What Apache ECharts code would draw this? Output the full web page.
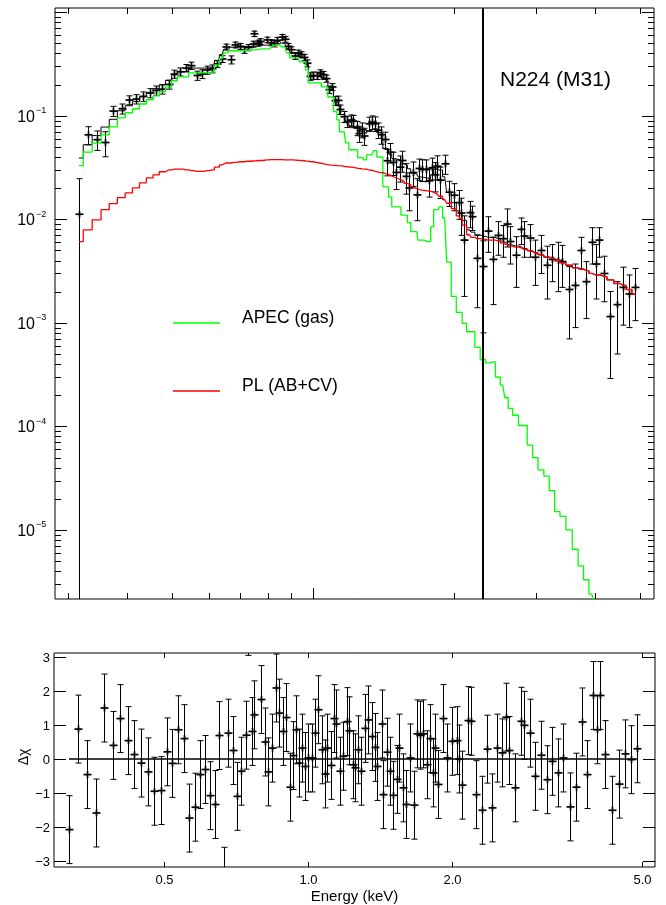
<!DOCTYPE html>
<html><head><meta charset="utf-8">
<script src="https://cdn.jsdelivr.net/npm/echarts/dist/echarts.min.js"></script>
<style>html,body{margin:0;padding:0;background:#fff}#c{width:666px;height:905px}</style>
</head><body><div id="c"></div>
<script>
// ---------------- data ----------------
const energy = [0.316,0.330,0.345,0.360,0.374,0.390,0.404,0.419,0.433,0.448,
 0.463,0.476,0.492,0.506,0.520,0.535,0.550,0.564,0.579,0.593,
 0.609,0.623,0.639,0.651,0.667,0.680,0.697,0.711,0.725,0.743,
 0.749,0.765,0.771,0.796,0.813,0.826,0.839,0.857,0.871,0.885,
 0.899,0.917,0.929,0.944,0.959,0.970,0.986,1.001,1.018,1.034,
 1.051,1.068,1.085,1.097,1.116,1.134,1.144,1.167,1.182,1.205,
 1.220,1.240,1.254,1.274,1.289,1.316,1.337,1.359,1.381,1.396,
 1.426,1.437,1.465,1.484,1.508,1.533,1.552,1.582,1.603,1.635,
 1.667,1.688,1.715,1.743,1.771,1.800,1.824,1.844,1.873,1.913,
 1.951,2.001,2.050,2.070,2.100,2.162,2.193,2.246,2.312,2.369,
 2.427,2.485,2.546,2.596,2.634,2.711,2.791,2.831,2.913,2.985,
 3.072,3.162,3.239,3.334,3.416,3.533,3.637,3.743,3.835,3.948,
 4.025,4.083,4.181,4.325,4.473,4.604,4.739,4.879];

const flux = [0.0112,0.0655,0.0588,0.0552,0.111,0.117,0.142,0.145,0.154,0.166,
 0.176,0.181,0.201,0.253,0.266,0.289,0.305,0.245,0.254,0.277,
 0.285,0.317,0.354,0.462,0.348,0.484,0.469,0.432,0.456,0.493,
 0.62,0.504,0.522,0.541,0.509,0.499,0.535,0.575,0.549,0.469,
 0.435,0.378,0.403,0.390,0.366,0.322,0.240,0.245,0.244,0.258,
 0.250,0.229,0.179,0.190,0.140,0.141,0.115,0.098,0.088,0.091,
 0.0887,0.0763,0.0673,0.0733,0.0638,0.0838,0.0868,0.084,0.0728,0.0656,
 0.059,0.0368,0.0445,0.0355,0.0284,0.0319,0.037,0.026,0.0201,0.0283,
 0.0172,0.031,0.0304,0.0303,0.0236,0.0315,0.0269,0.0326,0.0239,0.0344,
 0.0183,0.0171,0.0145,0.0115,0.0063,0.0116,0.0106,0.0042,0.0035,0.0077,
 0.0041,0.0070,0.0065,0.0090,0.0061,0.0045,0.0080,0.0069,0.0066,0.0043,
 0.0050,0.0036,0.0041,0.0040,0.0039,0.0021,0.0023,0.0050,0.0025,0.0060,
 0.0037,0.0063,0.0030,0.00115,0.0015,0.0022,0.0019,0.0022];

const fluxErr = [0.0135,0.013,0.0125,0.015,0.0125,0.013,0.014,0.015,0.016,0.017,
 0.018,0.019,0.02,0.023,0.024,0.024,0.025,0.025,0.025,0.025,
 0.025,0.024,0.027,0.03,0.031,0.031,0.031,0.031,0.031,0.032,
 0.037,0.033,0.033,0.034,0.034,0.036,0.037,0.035,0.035,0.031,
 0.028,0.028,0.028,0.026,0.026,0.025,0.02,0.02,0.02,0.02,
 0.018,0.018,0.015,0.015,0.014,0.014,0.012,0.012,0.011,0.011,
 0.012,0.012,0.012,0.012,0.012,0.013,0.013,0.0135,0.0125,0.0125,
 0.0105,0.0105,0.0095,0.009,0.009,0.009,0.0085,0.0085,0.008,0.0075,
 0.0075,0.0072,0.0072,0.0072,0.0072,0.0075,0.0085,0.0085,0.008,0.0072,
 0.005,0.005,0.0045,0.0045,0.0045,0.0033,0.0028,0.0028,0.0027,0.0029,
 0.0026,0.0025,0.0022,0.0036,0.0024,0.0023,0.0023,0.0026,0.0023,0.002,
 0.002,0.0019,0.0016,0.002,0.0017,0.0014,0.0014,0.0017,0.0014,0.0023,
 0.002,0.002,0.0014,0.00086,0.001,0.00125,0.001,0.00115];

const apec = [0.0330,0.0446,0.0545,0.0655,0.0783,0.0957,0.107,0.117,0.130,0.143,
 0.156,0.170,0.190,0.218,0.238,0.238,0.260,0.260,0.260,0.260,
 0.265,0.311,0.356,0.406,0.425,0.425,0.425,0.430,0.430,0.434,
 0.434,0.439,0.444,0.444,0.454,0.475,0.485,0.464,0.464,0.406,
 0.363,0.363,0.363,0.332,0.332,0.278,0.208,0.208,0.208,0.208,
 0.190,0.190,0.152,0.152,0.110,0.0915,0.070,0.070,0.0548,0.047,
 0.047,0.047,0.0394,0.0394,0.0376,0.042,0.042,0.046,0.040,0.040,
 0.0206,0.0206,0.0164,0.0132,0.0132,0.0132,0.011,0.011,0.0093,0.0076,
 0.0076,0.0063,0.0063,0.0061,0.0061,0.0085,0.0124,0.0124,0.0132,0.0103,
 0.00386,0.0018,0.00126,0.00126,0.00099,0.00082,0.00082,0.00058,0.00044,0.00041,
 0.00042,0.0003,0.00025,0.00019,0.000149,0.000128,0.000102,0.000102,0.000066,0.00005,
 0.000038,0.000033,0.000024,0.000015,0.0000135,0.00001,0.0000065,0.0000045,0.0000033,0.0000024,
 0.0000019,null,null,null,null,null,null,null];

const pl = [0.0061,0.0079,0.0099,0.0124,0.0142,0.0162,0.0180,0.0201,0.0225,0.0251,
 0.0269,0.0288,0.0301,0.0305,0.0305,0.0301,0.0296,0.0290,0.0290,0.0295,
 0.0301,0.032,0.0336,0.035,0.035,0.0355,0.036,0.036,0.0364,0.0366,
 0.0368,0.037,0.037,0.0376,0.0378,0.0378,0.0378,0.0378,0.0376,0.0376,
 0.0376,0.0374,0.0372,0.037,0.0368,0.0365,0.0362,0.036,0.0355,0.035,
 0.0345,0.034,0.0336,0.0334,0.0332,0.033,0.0328,0.0325,0.0322,0.032,
 0.0317,0.0313,0.031,0.0307,0.0305,0.0301,0.0298,0.0291,0.0286,0.0283,
 0.0276,0.0272,0.0262,0.0255,0.0248,0.0241,0.0233,0.0222,0.0215,0.0205,
 0.0198,0.0194,0.0191,0.0189,0.0187,0.0185,0.018,0.0175,0.0167,0.0155,
 0.0143,0.0127,0.0108,0.0102,0.0088,0.0071,0.0067,0.0065,0.0064,0.0063,
 0.0063,0.0062,0.0059,0.0057,0.0055,0.0054,0.0053,0.0051,0.0049,0.0047,
 0.0045,0.0043,0.0042,0.0040,0.0038,0.0036,0.0034,0.0033,0.0032,0.0030,
 0.0029,0.0029,0.0028,0.0026,0.0024,0.0023,0.0021,0.0019];

const resid = [-2.08,0.88,-0.46,-1.59,1.5,0.4,1.19,0.54,0.13,-0.12,
 -0.38,-0.95,-0.93,0.21,-0.13,0.86,0.6,-1.74,-1.42,-0.46,
 -0.31,-1.08,-1.34,0.69,-3.6,0.76,0.25,-1.1,-0.36,0.7,
 4.05,0.81,1.3,1.75,0.5,-0.38,0.32,2.09,1.35,0.81,
 1.22,-0.83,0.1,0.86,-0.12,0.32,-0.22,0.03,0.03,0.76,
 1.45,0.27,-0.44,0.32,-0.19,1.19,1.03,-0.36,0.08,1.1,
 0.83,-0.17,-0.26,0.27,-0.36,0.9,1.15,0.66,0.34,-0.22,
 1.03,-1.05,0.2,-0.36,-1.07,-0.6,0.32,-0.85,-1.34,0.03,
 -1.36,0.74,0.70,0.74,-0.17,0.6,-0.41,0.32,-0.75,1.19,
 0.03,0.52,0.54,0.0,-0.77,1.13,1.11,-1.05,-1.51,0.29,
 -1.44,0.32,0.18,1.23,0.25,-0.85,1.11,0.99,0.76,-0.51,
 0.11,-0.61,-0.07,-0.41,0.03,-1.41,-0.83,1.09,-0.46,1.87,
 0.86,1.87,0.13,-1.51,-0.74,0.15,-0.02,0.30];
const residErr = 1;

const markerEnergy = 2.31;          // vertical line in the spectrum panel
const topXMinorTicks = [0.3,0.4,0.5,0.6,0.7,0.8,0.9,2,3,4,5];
const topXMajorTicks = [1.0];
const topYLabelExp = [-1,-2,-3,-4,-5];
const botXTicks = [0.5,1.0,2.0,5.0];
const botXLabels = ['0.5','1.0','2.0','5.0'];
const botYTicks = [-3,-2,-1,0,1,2,3];
const botYLabels = ['\u22123','\u22122','\u22121','0','1','2','3'];
const titleText = 'N224 (M31)';
const legendNames = ['APEC (gas)','PL (AB+CV)'];

// ---------------- chart ----------------
const FONT = '"Liberation Sans", Arial, Helvetica, sans-serif';
const total = apec.map((a,i)=> (a==null?0:a) + pl[i]);
const ys = [];
for (let n=-6;n<=0;n++) for (let k=1;k<=9;k++) ys.push({v:k*Math.pow(10,n), major:k===1});

function L_(x1,y1,x2,y2,w){return {type:'line',shape:{x1,y1,x2,y2},style:{stroke:'#000',lineWidth:w||1}};}
function T_(text,x,y,size,align,va,extra){
  return Object.assign({type:'text',style:{text,x,y,fill:'#000',fontSize:size,fontFamily:FONT,
    align:align,textAlign:align,verticalAlign:va,textVerticalAlign:va}}, extra||{});
}

function errRender(isLog){
  return function(params, api){
    const cs = params.coordSys, T = cs.y, B = cs.y + cs.height;
    const e = api.value(0), v = api.value(1), s = api.value(2);
    const c = api.coord([e, v]);
    const x = Math.round(c[0]) + 0.5;
    const yTop = api.coord([e, v + s])[1];
    const yBot = (isLog && v - s <= 0) ? Infinity : api.coord([e, v - s])[1];
    const ch = [];
    const y1 = Math.max(yTop, T), y2 = Math.min(yBot, B);
    if (y1 < y2) ch.push(L_(x, y1, x, y2, 1));
    if (yTop >= T && yTop <= B) ch.push(L_(x-3, yTop, x+3, yTop, 1));
    if (yBot >= T && yBot <= B) ch.push(L_(x-3, yBot, x+3, yBot, 1));
    if (c[1] >= T && c[1] <= B) {
      ch.push(L_(x-4, c[1], x+4, c[1], 1.7));
      ch.push(L_(x, Math.max(T,c[1]-3.5), x, Math.min(B,c[1]+3.5), 1.7));
    }
    return {type:'group', children: ch};
  };
}

function topDeco(params, api){
  const cs = params.coordSys, L = cs.x, R = cs.x+cs.width, T = cs.y, B = cs.y+cs.height;
  const ch = [];
  ys.forEach(t => {
    const yy = api.coord([1, t.v])[1];
    if (yy < T-0.5 || yy > B+0.5) return;
    const y = Math.round(yy)+0.5, len = t.major ? 12 : 6;
    ch.push(L_(L, y, L+len, y)); ch.push(L_(R-len, y, R, y));
  });
  topXMinorTicks.concat(topXMajorTicks).forEach(t => {
    const x = Math.round(api.coord([t, 1])[0])+0.5, len = topXMajorTicks.includes(t) ? 11 : 6;
    ch.push(L_(x, T, x, T+len)); ch.push(L_(x, B-len, x, B));
  });
  topYLabelExp.forEach(ex => {
    const y = api.coord([1, Math.pow(10, ex)])[1];
    ch.push(T_('10', L-20, y+1.5, 16, 'right', 'middle'));
    ch.push(T_('\u2212'+Math.abs(ex), L-19, y-5, 9, 'left', 'middle'));
  });
  ch.push(T_(titleText, 500, 80, 21, 'left', 'middle'));
  // legend
  ch.push({type:'line',shape:{x1:173,y1:323,x2:220,y2:323},style:{stroke:'#00ff00',lineWidth:1.3}});
  ch.push(T_(legendNames[0], 242, 318, 17.5, 'left', 'middle'));
  ch.push({type:'line',shape:{x1:173,y1:391,x2:220,y2:391},style:{stroke:'#ff0000',lineWidth:1.3}});
  ch.push(T_(legendNames[1], 242, 386, 17.5, 'left', 'middle'));
  return {type:'group', children: ch};
}

function botDeco(params, api){
  const cs = params.coordSys, L = cs.x, R = cs.x+cs.width, T = cs.y, B = cs.y+cs.height;
  const ch = [];
  botYTicks.forEach((t,i) => {
    const y = Math.round(api.coord([1, t])[1])+0.5;
    ch.push(L_(L, y, L+12, y)); ch.push(L_(R-12, y, R, y));
    ch.push(T_(botYLabels[i], L-4, y+0.5, 13, 'right', 'middle'));
  });
  botXTicks.forEach((t,i) => {
    const x = Math.round(api.coord([t, 0])[0])+0.5;
    ch.push(L_(x, T, x, T+5)); ch.push(L_(x, B-5, x, B));
    ch.push(T_(botXLabels[i], x, B+13, 13, 'center', 'middle'));
  });
  ch.push(T_('Energy (keV)', L + cs.width/2, B+30, 15, 'center', 'middle'));
  ch.push({type:'text', x:24, y:757, rotation:Math.PI/2,
    style:{text:'\u0394\u03c7', x:0, y:0, fill:'#000', fontSize:14, fontFamily:FONT,
      align:'center', textAlign:'center', verticalAlign:'middle', textVerticalAlign:'middle'}});
  return {type:'group', children: ch};
}

const chart = echarts.init(document.getElementById('c'), null, {renderer:'canvas', width:666, height:905});
const stepLine = (name, vals, color, w) => ({
  name, type:'line', xAxisIndex:0, yAxisIndex:0, step:'middle', showSymbol:false, symbol:'none',
  connectNulls:false, silent:true, lineStyle:{color, width:w}, itemStyle:{color},
  data: energy.map((e,i)=>[e, vals[i]])
});

chart.setOption({
  animation:false,
  backgroundColor:'#fff',
  grid:[
    {left:55, top:8, width:599, height:591, show:true, borderColor:'#000', borderWidth:1, backgroundColor:'transparent'},
    {left:54, top:653, width:601, height:214, show:true, borderColor:'#000', borderWidth:1, backgroundColor:'transparent'}
  ],
  xAxis:[
    {gridIndex:0, type:'log', logBase:10, min:0.281, max:5.36, show:false},
    {gridIndex:1, type:'log', logBase:10, min:0.294, max:5.32, show:false}
  ],
  yAxis:[
    {gridIndex:0, type:'log', logBase:10, min:2.15e-6, max:1.1, show:false},
    {gridIndex:1, type:'value', min:-3.18, max:3.12, show:false}
  ],
  series:[
    Object.assign(stepLine('total', total, '#000', 1), {
      markLine:{symbol:'none', silent:true, label:{show:false},
        lineStyle:{color:'#000', width:2, type:'solid'}, data:[{xAxis: markerEnergy}]}
    }),
    stepLine(legendNames[0], apec, '#00ff00', 1.3),
    stepLine(legendNames[1], pl, '#ff0000', 1.3),
    {type:'custom', xAxisIndex:0, yAxisIndex:0, silent:true, renderItem: errRender(true),
      encode:{x:0, y:1}, data: energy.map((e,i)=>[e, flux[i], fluxErr[i]])},
    {type:'custom', xAxisIndex:0, yAxisIndex:0, silent:true, renderItem: topDeco,
      encode:{x:0, y:1}, data:[[1, 0.01]]},
    {type:'line', xAxisIndex:1, yAxisIndex:1, showSymbol:false, symbol:'none', silent:true,
      lineStyle:{color:'#000', width:1.6},
      data:[[energy[0], 0], [energy[energy.length-1], 0]]},
    {type:'custom', xAxisIndex:1, yAxisIndex:1, silent:true, renderItem: errRender(false),
      encode:{x:0, y:1}, data: energy.map((e,i)=>[e, resid[i], residErr])},
    {type:'custom', xAxisIndex:1, yAxisIndex:1, silent:true, renderItem: botDeco,
      encode:{x:0, y:1}, data:[[1, 0]]}
  ]
});
</script></body></html>
